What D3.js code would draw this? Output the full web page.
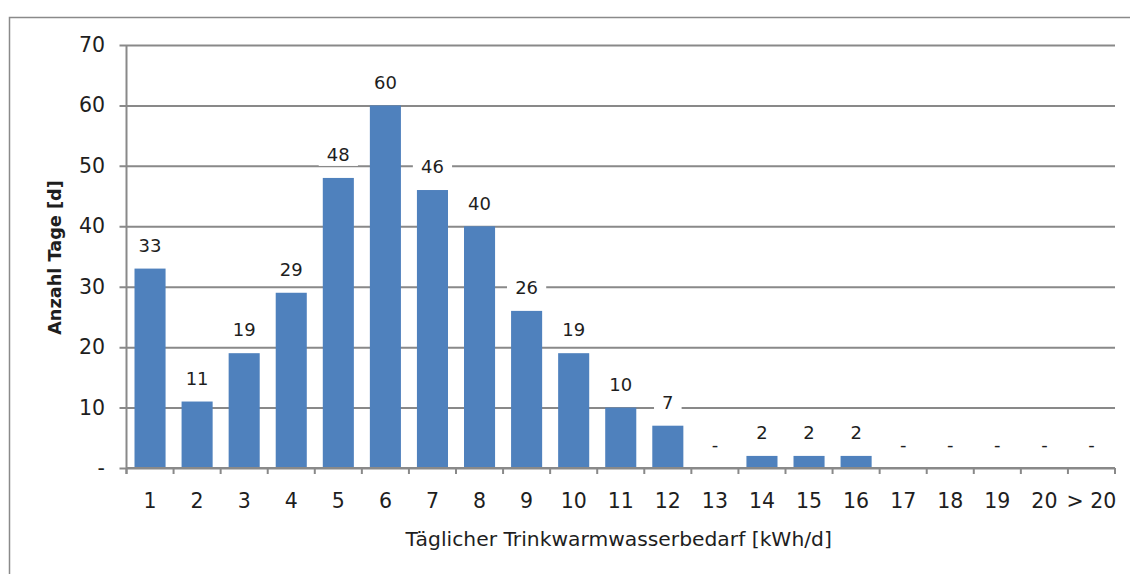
<!DOCTYPE html>
<html>
<head>
<meta charset="utf-8">
<script src="https://cdn.jsdelivr.net/npm/d3@7"></script>
<style>
  html, body { margin: 0; padding: 0; background: #fff; }
  svg { display: block; }
  text { font-family: "DejaVu Sans", sans-serif; fill: #1e1e1e; }
</style>
</head>
<body>
<svg id="chart" width="1130" height="574"></svg>
<script>
// Verteilung des täglichen Trinkwarmwasserbedarfs
const categories = ["1","2","3","4","5","6","7","8","9","10","11","12","13","14","15","16","17","18","19","20","> 20"];
const days = [33, 11, 19, 29, 48, 60, 46, 40, 26, 19, 10, 7, 0, 2, 2, 2, 0, 0, 0, 0, 0];
const yTicks = [0, 10, 20, 30, 40, 50, 60, 70];
const xTitle = "Täglicher Trinkwarmwasserbedarf [kWh/d]";
const yTitle = "Anzahl Tage [d]";

const W = 1130, H = 574;
const margin = { top: 45, right: 15, bottom: 106, left: 126.5 };
const innerW = W - margin.left - margin.right;
const innerH = H - margin.top - margin.bottom;

const svg = d3.select("#chart");
const gridColor = "#898989";
const barColor = "#4f81bd";
const fmt = v => v === 0 ? "-" : String(v);

// outer frame
svg.append("rect")
  .attr("x", 9.5).attr("y", 17.5)
  .attr("width", W + 20).attr("height", H + 20)
  .attr("fill", "none").attr("stroke", "#8a8a8a").attr("stroke-width", 1.5);

const g = svg.append("g").attr("transform", `translate(${margin.left},${margin.top})`);

const x = d3.scaleBand().domain(categories).range([0, innerW])
  .paddingInner(0.34).paddingOuter(0.17);
const y = d3.scaleLinear().domain([0, 70]).range([innerH, 0]);

// horizontal gridlines + y axis
const yAxis = d3.axisLeft(y).tickValues(yTicks).tickFormat(fmt)
  .tickSize(-innerW).tickPadding(21.5);
const yg = g.append("g").call(yAxis);
yg.select(".domain").remove();
yg.selectAll(".tick line")
  .attr("x1", -7)
  .attr("stroke", gridColor).attr("stroke-width", 2);
yg.selectAll(".tick text")
  .attr("font-family", "DejaVu Sans")
  .attr("font-size", 20.5).attr("fill", "#1e1e1e");

// vertical axis line
g.append("line")
  .attr("x1", 0).attr("x2", 0).attr("y1", 0).attr("y2", innerH + 6)
  .attr("stroke", gridColor).attr("stroke-width", 2);

// bars
g.append("g").selectAll("rect").data(days).join("rect")
  .attr("x", (d, i) => x(categories[i]))
  .attr("width", x.bandwidth())
  .attr("y", d => y(d))
  .attr("height", d => innerH - y(d))
  .attr("fill", barColor);

// x axis: labels centred under bars, ticks on category boundaries
const xAxis = d3.axisBottom(x).tickSize(0).tickPadding(25);
const xg = g.append("g").attr("transform", `translate(0,${innerH})`).call(xAxis);
xg.select(".domain").remove();
xg.selectAll(".tick text")
  .attr("font-family", "DejaVu Sans")
  .attr("font-size", 20.5).attr("fill", "#1e1e1e");

const step = x.step();
const boundaries = d3.range(categories.length + 1).map(i => i * step);
g.append("g").selectAll("line").data(boundaries).join("line")
  .attr("x1", d => d).attr("x2", d => d)
  .attr("y1", innerH).attr("y2", innerH + 6)
  .attr("stroke", gridColor).attr("stroke-width", 2);
g.append("line")
  .attr("x1", 0).attr("x2", innerW).attr("y1", innerH).attr("y2", innerH)
  .attr("stroke", gridColor).attr("stroke-width", 2);

// data labels with white backing
const labels = g.append("g").selectAll("g").data(days).join("g")
  .attr("transform", (d, i) => `translate(${x(categories[i]) + x.bandwidth() / 2},${y(d) - 23})`);
labels.append("rect")
  .attr("x", d => -(fmt(d).length * 5.8 + 8))
  .attr("width", d => 2 * (fmt(d).length * 5.8 + 8))
  .attr("y", -11).attr("height", 22)
  .attr("fill", "#fff");
labels.append("text")
  .attr("text-anchor", "middle").attr("dy", "0.35em")
  .attr("font-size", 18)
  .text(d => fmt(d));

// axis titles
svg.append("text")
  .attr("x", margin.left + innerW / 2 - 2).attr("y", 546)
  .attr("text-anchor", "middle").attr("font-size", 20.3)
  .text(xTitle);
svg.append("text")
  .attr("transform", `translate(61,${margin.top + innerH / 2 + 1}) rotate(-90)`)
  .attr("text-anchor", "middle").attr("font-size", 17.7).attr("font-weight", "bold")
  .attr("font-family", "Open Sans")
  .text(yTitle);
</script>
</body>
</html>
